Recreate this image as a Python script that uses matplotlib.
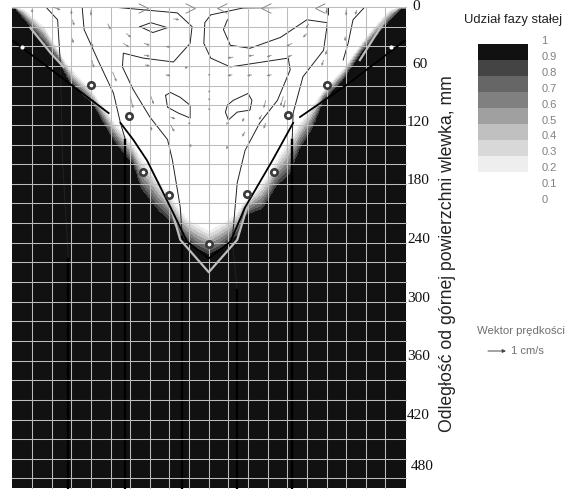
import matplotlib
matplotlib.use("Agg")
import matplotlib.pyplot as plt
import numpy as np
from matplotlib.path import Path

W, H = 570, 494
plt.rcParams['font.family'] = ['Liberation Sans', 'DejaVu Sans']

# Depth (mm) at which solid fraction starts and reaches about 1
white_x = [-189,-168,-148,-121,-97,-63,-42,-22,0,22,39,60,83,106,137,167,185]
white_d = [0,16,51,81,112,153,183,210,222,210,193,166,125,95,61,20,0]
dark_x = [-200,-182,-154,-141,-118,-100,-87,-77,-70,-52,-34,-32,-12,0,12,32,35,55,70,83,93,106,117,137,157,182,198]
dark_d = [0,23,57,81,102,135,153,163,189,212,227,235,250,256,250,234,215,210,186,176,149,128,98,77,47,20,0]

band_levels = [0,0.2,0.3,0.4,0.5,0.6,0.7,0.8,0.9,1.01]
band_colors = ['#ffffff','#eeeeee','#d8d8d8','#c0c0c0','#a0a0a0','#808080','#666666','#444444','#111111']
legend_labels = ['1','0.9','0.8','0.7','0.6','0.5','0.4','0.3','0.2','0.1','0']

# Thick front lines
black_lines = [
    ([-200,-102],[34,108]),
    ([-90,-77,-63,-39,-22,0,22,37,65,86],[118,135,156,204,239,256,239,204,156,118]),
    ([93,141,200],[112,79,34]),
]
grey_lines = [
    ([-41,-29,0,29,39],[196,237,270,237,204]),
    ([-182,-161,-148],[21,47,61]),
    ([178,154],[16,54]),
]
# Thin contour lines
contours = [
    ([-166,-154,-151,-149,-143,-143],[0,13,61,156,257,492]),
    ([-129,-127,-113,-97,-90,-85,-85],[0,23,54,88,118,135,492]),
    ([-98,-32,-17,-19,-36,-67,-87,-88,-77,-60,-42,-37,-29,-27,-27],[0,6,20,37,56,52,47,61,84,112,135,156,204,234,492]),
    ([122,122,35,2,-4,-5,2,22,81,83,70,52,37,29,24,29,29],[8,0,1,8,16,37,52,61,52,64,95,118,146,179,237,288,492]),
    ([19,15,22,42,73,100,121,117,96,86,85,85],[13,23,39,42,31,13,16,44,71,108,135,492]),
    ([159,147,142,137],[0,13,37,54]),
    ([-70,-59,-42,-57,-70],[20,16,21,26,20]),
    ([-44,-39,-29,-19,-19,-31,-42,-44],[90,87,92,100,113,108,102,90]),
    ([19,25,40,44,42,29,20,17,19],[100,95,88,95,105,107,115,107,100]),
]
ring_x = [-120,-81,-67,-40,0,39,66,81,120]
ring_d = [79,111,168,191,241,190,168,110,79]
spot_x = [-190,186]
spot_d = [41,41]

# Velocity vectors
vec_x = [-159,-140,-139,-139,-120,-120,-119,-103,-98,-84,-87,-80,-59,-66,-66,-65,-44,-44,-39,-39,-59,-19,-20,-24,-36,-180,
         25,24,44,46,64,64,85,85,100,102,120,117,120,140,139,151,76,58,78,54,36,58,19,37,19,0,0,0,0]
vec_d = [0,3,13,32,3,35,54,17,66,27,37,91,91,37,49,59,40,69,112,120,122,140,118,62,12,3,
         51,69,69,49,49,69,37,49,27,17,1,54,44,3,30,3,91,95,95,110,113,118,118,127,142,69,86,94,104]
vec_u = [8,0,2,1,0,2,2,3,4,5,6,3,3,6,6,5,5,5,5,4,1,1,1,3,6,0,
         -6,-5,-5,-6,-5,-5,-6,-5,-4,-3,0,-2,-1,0,0,-2,-3,-2,-2,-3,-2,-2,-1,-3,-1,2,2,2,2]
vec_v = [3,5,6,5,6,6,8,6,10,4,4,12,8,2,1,1,1,1,2,7,4,3,2,-1,1,3,
         1,1,1,1,2,1,3,2,4,5,6,6,5,6,5,5,10,8,8,5,4,6,2,5,3,0,0,0,0]
top_right_x = [-67,-19]
top_left_x = [14,58,113]

tick_values = [0,60,120,180,240,300,360,420,480]
tick_label_d = [-1,59,118,177,237,297,356,416,468]
tick_label_px = [412,412,407,407,407,407,407,407,411]

fig = plt.figure(figsize=(W/100, H/100), dpi=100, facecolor='white')
L, R, T, B = 11.5, 406.0, 7.0, 489.0
ax = fig.add_axes([L/W, 1-B/H, (R-L)/W, (B-T)/H])
ax.set_xlim(-201, 201)
ax.set_ylim(490.7, 0)

xs = np.arange(-201, 202, 3.0)
ys = np.arange(0, 492, 3.0)
X, Y = np.meshgrid(xs, ys)
d0 = np.interp(X, white_x, white_d)
d1 = np.interp(X, dark_x, dark_d)
fs = np.clip((Y - d0) / np.maximum(d1 - d0, 1.0), 0, 1)
ax.contourf(X, Y, fs, levels=band_levels, colors=band_colors, zorder=1)

ax.set_xticks(np.arange(-180, 181, 20))
ax.set_yticks(np.arange(0, 481, 20))
ax.tick_params(length=0, labelbottom=False, labelleft=False)
ax.set_axisbelow(False)
ax.grid(True, color='#bcbcbc', lw=0.75)
for g in ax.get_ygridlines():
    g.set_clip_on(False)
for s in ax.spines.values():
    s.set_visible(False)

for cx, cy in contours:
    ax.plot(cx, cy, color='#222222', lw=0.7, zorder=2.2, solid_joinstyle='round')
# solid-region parts of the contours are pure black and heavier
for cx, cy in contours[:5]:
    ax.plot(cx[-2:], cy[-2:], color='black', lw=1.7, zorder=2.2)
for cx, cy in grey_lines:
    ax.plot(cx, cy, color='#bdbdbd', lw=1.6, zorder=3.2)
for cx, cy in black_lines:
    ax.plot(cx, cy, color='black', lw=1.3, zorder=3.3)

ax.quiver(vec_x, vec_d, vec_u, vec_v, angles='xy', scale_units='xy', scale=1,
          width=0.002, headwidth=3, headlength=3, color='#8a8a8a', zorder=3)

chev_r = Path([(-1,1),(1,0),(-1,-1)], [Path.MOVETO, Path.LINETO, Path.LINETO])
chev_l = Path([(1,1),(-1,0),(1,-1)], [Path.MOVETO, Path.LINETO, Path.LINETO])
ax.plot(top_right_x, [1]*len(top_right_x), ls='none', marker=chev_r, ms=7, mfc='none', mec='#888888', mew=0.7, clip_on=False, zorder=3)
ax.plot(top_left_x, [1]*len(top_left_x), ls='none', marker=chev_l, ms=7, mfc='none', mec='#888888', mew=0.7, clip_on=False, zorder=3)

ax.plot(ring_x, ring_d, ls='none', marker='o', ms=4.6, mfc='white', mec='#3a3a3a', mew=1.9, zorder=4)
ax.plot(spot_x, spot_d, ls='none', marker='o', ms=2, mfc='white', mec='white', zorder=4)

def ftext(px, py, s, **kw):
    fig.text(px/W, 1-py/H, s, **kw)

for v, ld, px in zip(tick_values, tick_label_d, tick_label_px):
    ftext(px, T + ld*0.9825, str(v), family='Liberation Serif', fontsize=11, color='#111111', ha='left', va='center')

ftext(447, 253.5, 'Odległość od górnej powierzchni wlewka, mm', rotation=90, ha='center', va='center', fontsize=12.7, color='#222222')
ftext(513, 20, 'Udział fazy stałej', ha='center', va='center', fontsize=9.4, color='#222222')

cax = fig.add_axes([478/W, 1-172/H, 50/W, 128/H])
cax.axis('off')
cax.pcolormesh([0,1], np.arange(9), np.arange(8)[:,None], cmap=matplotlib.colors.ListedColormap(band_colors[1:]), shading='flat')
cax.set_xlim(0,1); cax.set_ylim(0,8)
for i, lab in enumerate(legend_labels):
    ftext(541.5, 41 + i*15.9, lab, ha='left', va='center', fontsize=8, color='#808080')

ftext(521, 331, 'Wektor prędkości', ha='center', va='center', fontsize=8.2, color='#707070')
ftext(511, 351, '1 cm/s', ha='left', va='center', fontsize=8, color='#707070')
fig.add_artist(matplotlib.patches.FancyArrowPatch((488/W, 1-351/H), (506/W, 1-351/H), transform=fig.transFigure,
               arrowstyle='-|>', mutation_scale=5, lw=0.7, color='#444444', shrinkA=0, shrinkB=0))

fig.savefig('out.png', dpi=100)
